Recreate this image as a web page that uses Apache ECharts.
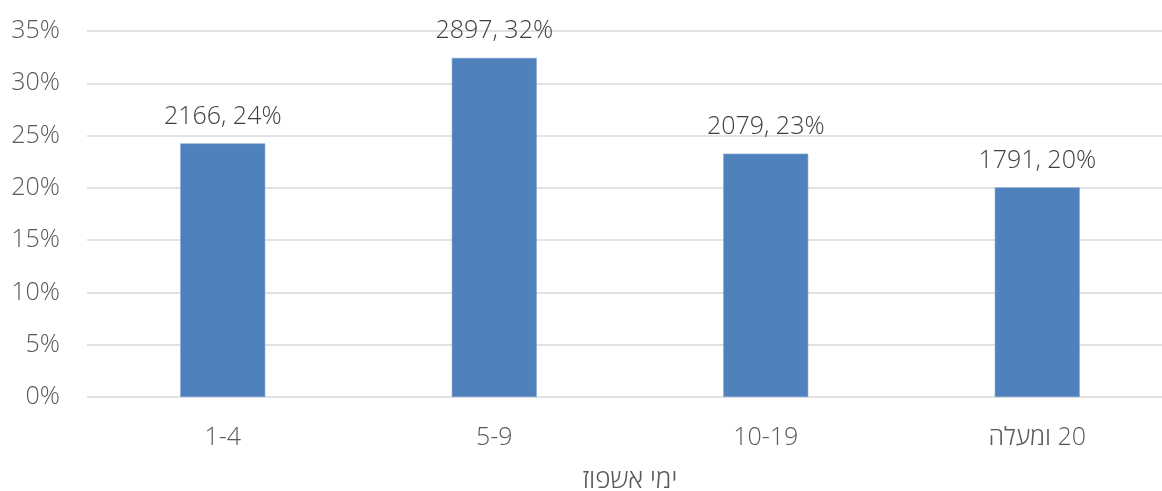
<!DOCTYPE html>
<html>
<head>
<meta charset="utf-8">
<style>
  html, body { margin: 0; padding: 0; background: #ffffff; }
  #chart { width: 1162px; height: 491px; }
</style>
<script src="https://cdn.jsdelivr.net/npm/echarts@6/dist/echarts.min.js"></script>
</head>
<body>
<div id="chart"></div>
<script>
// Hospitalisation length groups and patient counts
// (the last label is wrapped in a right-to-left embedding so "20" sits on its right)
const categories = ['1-4', '5-9', '10-19', '\u202B20 ומעלה\u202C'];
const counts = [2166, 2897, 2079, 1791];
const axisTitle = 'ימי אשפוז';
const yTicks = { min: 0, max: 0.35, interval: 0.05 };

// Share of each group out of all patients
const total = counts.reduce((a, b) => a + b, 0);
const shares = counts.map(c => c / total);

const FONT = '"Open Sans", "Noto Sans", sans-serif';
const TEXT = { fontFamily: FONT, fontSize: 25, fontWeight: 300, color: '#595959' };
const chart = echarts.init(document.getElementById('chart'));

chart.setOption({
  animation: false,
  backgroundColor: '#ffffff',
  grid: {
    left: 87, right: -11, top: 31, bottom: 94,
    containLabel: false,
    outerBoundsMode: 'none'
  },
  xAxis: {
    type: 'category',
    data: categories,
    name: axisTitle,
    nameLocation: 'middle',
    nameGap: 71,
    nameTextStyle: Object.assign({}, TEXT, { fontSize: 26 }),
    axisLine: { show: false },
    axisTick: { show: false },
    axisLabel: Object.assign({ margin: 28 }, TEXT)
  },
  yAxis: {
    type: 'value',
    min: yTicks.min,
    max: yTicks.max,
    interval: yTicks.interval,
    axisLine: { show: false },
    axisTick: { show: false },
    splitLine: { lineStyle: { color: '#d9d9d9', width: 1.5 } },
    axisLabel: Object.assign({
      margin: 27,
      formatter: v => Math.round(v * 100) + '%'
    }, TEXT)
  },
  series: [{
    type: 'bar',
    data: shares,
    barWidth: '31.3%',
    itemStyle: { color: '#4f81bd', borderColor: '#7ea3d2', borderWidth: 0.6 },
    label: Object.assign({
      show: true,
      position: 'top',
      distance: 14,
      formatter: p => counts[p.dataIndex] + ', ' + Math.round(p.value * 100) + '%'
    }, TEXT, { color: '#404040' })
  }]
});
</script>
</body>
</html>
